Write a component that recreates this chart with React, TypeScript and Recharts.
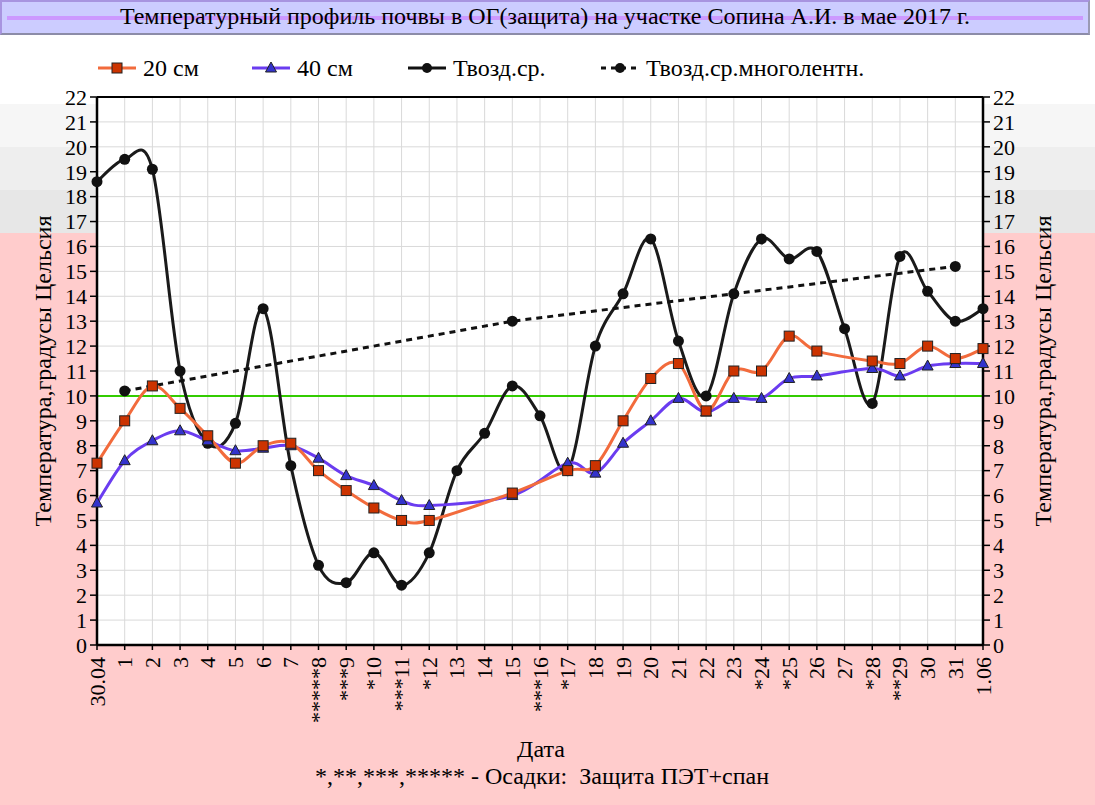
import { LineChart, Line, XAxis, YAxis, CartesianGrid, ReferenceLine } from 'recharts'

const SERIF = "'Liberation Serif', 'Times New Roman', Times, 'DejaVu Serif', 'Noto Serif', serif"

const dates = [
  '30.04', '1', '2', '3', '4', '5', '6', '7', '*****8', '***9', '*10', '***11', '*12',
  '13', '14', '15', '***16', '*17', '18', '19', '20', '21', '22', '23', '*24', '*25',
  '26', '27', '*28', '**29', '30', '31', '1.06',
]

// 20 см
const soil20 = [
  7.3, 9.0, 10.4, 9.5, 8.4, 7.3, 8.0, 8.1, 7.0, 6.2, 5.5, 5.0, 5.0,
  null, null, 6.1, null, 7.0, 7.2, 9.0, 10.7, 11.3, 9.4, 11.0, 11.0, 12.4,
  11.8, null, 11.4, 11.3, 12.0, 11.5, 11.9,
]

// 40 см
const soil40 = [
  5.7, 7.4, 8.2, 8.6, 8.2, 7.8, 7.9, 8.0, 7.5, 6.8, 6.4, 5.8, 5.6,
  null, null, 6.0, null, 7.3, 6.9, 8.1, 9.0, 9.9, 9.35, 9.9, 9.9, 10.7,
  10.8, null, 11.1, 10.8, 11.2, 11.3, 11.3,
]

// Твозд.ср.
const airMean = [
  18.6, 19.5, 19.1, 11.0, 8.1, 8.9, 13.5, 7.2, 3.2, 2.5, 3.7, 2.4, 3.7,
  7.0, 8.5, 10.4, 9.2, 7.0, 12.0, 14.1, 16.3, 12.2, 10.0, 14.1, 16.3, 15.5,
  15.8, 12.7, 9.7, 15.6, 14.2, 13.0, 13.5,
]

// Твозд.ср.многолетн.
const airNorm = [
  null, 10.2, null, null, null, null, null, null, null, null, null, null, null,
  null, null, 13.0, null, null, null, null, null, null, null, null, null, null,
  null, null, null, null, null, 15.2, null,
]

const yTicks = [0, 1, 2, 3, 4, 5, 6, 7, 8, 9, 10, 11, 12, 13, 14, 15, 16, 17, 18, 19, 20, 21, 22]

const data = dates.map((d, i) => ({
  date: d,
  s20: soil20[i],
  s40: soil40[i],
  air: airMean[i],
  norm: airNorm[i],
}))

// Excel-like smoothing (Catmull-Rom through the points)
const excelSmooth = (context: any) => {
  let pts: number[][] = []
  return {
    areaStart() {},
    areaEnd() {},
    lineStart() {
      pts = []
    },
    point(x: number, y: number) {
      pts.push([+x, +y])
    },
    lineEnd() {
      const n = pts.length
      if (!n) return
      context.moveTo(pts[0][0], pts[0][1])
      if (n === 2) {
        context.lineTo(pts[1][0], pts[1][1])
        return
      }
      for (let i = 0; i < n - 1; i++) {
        const p0 = pts[i - 1] || pts[i]
        const p1 = pts[i]
        const p2 = pts[i + 1]
        const p3 = pts[i + 2] || pts[i + 1]
        context.bezierCurveTo(
          p1[0] + (p2[0] - p0[0]) / 6,
          p1[1] + (p2[1] - p0[1]) / 6,
          p2[0] - (p3[0] - p1[0]) / 6,
          p2[1] - (p3[1] - p1[1]) / 6,
          p2[0],
          p2[1],
        )
      }
    },
  }
}

const SquareDot = (props: any) => {
  const { cx, cy, value, index } = props
  if (value == null || cy == null) return <g key={index} />
  return (
    <rect key={index} x={cx - 5} y={cy - 5} width={10} height={10} fill="#cc3300" stroke="#222" strokeWidth={1} />
  )
}

const TriangleDot = (props: any) => {
  const { cx, cy, value, index } = props
  if (value == null || cy == null) return <g key={index} />
  return (
    <path
      key={index}
      d={`M${cx},${cy - 6} L${cx + 5.5},${cy + 4} L${cx - 5.5},${cy + 4} Z`}
      fill="#3333cc"
      stroke="#222"
      strokeWidth={1}
    />
  )
}

const CircleDot = (props: any) => {
  const { cx, cy, value, index } = props
  if (value == null || cy == null) return <g key={index} />
  return <circle key={index} cx={cx} cy={cy} r={5.5} fill="#111" />
}

const DateTick = (props: any) => {
  const { x, y, payload } = props
  return (
    <text
      x={x}
      y={y}
      transform={`rotate(-90 ${x} ${y})`}
      textAnchor="end"
      dominantBaseline="central"
      fontSize={22}
      style={{ fontFamily: SERIF }}
      fill="#000"
    >
      {payload.value}
    </text>
  )
}

function LegendItem({ left, kind, label }: { left: number; kind: string; label: string }) {
  let icon = null
  if (kind === 's20') {
    icon = (
      <>
        <line x1={0} y1={10} x2={38} y2={10} stroke="#f26b3c" strokeWidth={3} />
        <rect x={14} y={5} width={10} height={10} fill="#cc3300" stroke="#222" />
      </>
    )
  } else if (kind === 's40') {
    icon = (
      <>
        <line x1={0} y1={10} x2={38} y2={10} stroke="#6a3cf0" strokeWidth={3} />
        <path d="M19,4 L24.5,14 L13.5,14 Z" fill="#3333cc" stroke="#222" />
      </>
    )
  } else if (kind === 'air') {
    icon = (
      <>
        <line x1={0} y1={10} x2={38} y2={10} stroke="#111" strokeWidth={3} />
        <circle cx={19} cy={10} r={5} fill="#111" />
      </>
    )
  } else {
    icon = (
      <>
        <line x1={0} y1={10} x2={38} y2={10} stroke="#111" strokeWidth={3} strokeDasharray="5 5" />
        <circle cx={19} cy={10} r={5} fill="#111" />
      </>
    )
  }
  return (
    <div style={{ position: 'absolute', left, top: 54, height: 28, display: 'flex', alignItems: 'center' }}>
      <svg width={38} height={20} style={{ marginRight: 7 }}>
        {icon}
      </svg>
      <span style={{ fontFamily: SERIF, fontSize: 24, color: '#000', whiteSpace: 'nowrap' }}>{label}</span>
    </div>
  )
}

const axisTick = { fontSize: 22, fill: '#000', style: { fontFamily: SERIF } }

const titleText = {
  position: 'absolute' as const,
  fontFamily: SERIF,
  fontSize: 24,
  color: '#000',
  whiteSpace: 'nowrap' as const,
}

export default function App() {
  return (
    <div style={{ position: 'absolute', left: 0, top: 0, width: 1095, height: 805, background: '#fff', overflow: 'hidden', fontFamily: SERIF }}>
      {/* background bands */}
      <div style={{ position: 'absolute', left: 0, top: 104, width: 1095, height: 43, background: '#f6f6f6' }} />
      <div style={{ position: 'absolute', left: 0, top: 147, width: 1095, height: 43, background: '#eeeeee' }} />
      <div style={{ position: 'absolute', left: 0, top: 190, width: 1095, height: 43, background: '#e7e7e7' }} />
      <div style={{ position: 'absolute', left: 0, top: 233, width: 1095, height: 572, background: '#ffcccc' }} />

      {/* title */}
      <div
        style={{
          position: 'absolute',
          left: 0,
          top: 0,
          width: 1086,
          height: 31,
          background: '#ccccff',
          borderTop: '2px solid #a894e0',
          borderLeft: '2px solid #a894e0',
          borderRight: '2px solid #9a9ab4',
          borderBottom: '2px solid #8c8ca8',
        }}
      >
        <div style={{ position: 'absolute', left: 5, right: 5, top: 14, height: 4, background: '#cc99ff' }} />
        <div style={{ ...titleText, left: 0, right: 0, top: 1, textAlign: 'center' }}>
          Температурный профиль почвы в ОГ(защита) на участке Сопина А.И. в мае 2017 г.
        </div>
      </div>

      {/* legend */}
      <LegendItem left={98} kind="s20" label="20 см" />
      <LegendItem left={252} kind="s40" label="40 см" />
      <LegendItem left={408} kind="air" label="Твозд.ср." />
      <LegendItem left={601} kind="norm" label="Твозд.ср.многолентн." />

      <div style={{ position: 'absolute', left: 0, top: 0 }}>
        <LineChart width={1095} height={805} data={data} margin={{ top: 97, right: 0, bottom: 0, left: 0 }}>
          <CartesianGrid stroke="#d9d9d9" fill="#ffffff" yAxisId="left" />
          <XAxis
            dataKey="date"
            interval={0}
            height={160}
            tick={<DateTick />}
            tickSize={5}
            tickMargin={7}
            axisLine={{ stroke: '#000', strokeWidth: 2.5 }}
            tickLine={{ stroke: '#000', strokeWidth: 1.5 }}
          />
          <YAxis
            yAxisId="left"
            orientation="left"
            width={97}
            domain={[0, 22]}
            ticks={yTicks}
            interval={0}
            tickSize={7}
            tickMargin={3}
            tick={axisTick}
            axisLine={{ stroke: '#000', strokeWidth: 2.5 }}
            tickLine={{ stroke: '#000', strokeWidth: 1.5 }}
          />
          <YAxis
            yAxisId="right"
            orientation="right"
            width={112}
            domain={[0, 22]}
            ticks={yTicks}
            interval={0}
            tickSize={7}
            tickMargin={3}
            tick={axisTick}
            axisLine={{ stroke: '#000', strokeWidth: 2.5 }}
            tickLine={{ stroke: '#000', strokeWidth: 1.5 }}
          />
          <ReferenceLine yAxisId="left" y={22} stroke="#000" strokeWidth={2} />
          <ReferenceLine yAxisId="left" y={10} stroke="#33cc00" strokeWidth={2} />
          <Line
            yAxisId="left"
            dataKey="air"
            type={excelSmooth as any}
            stroke="#1a1a1a"
            strokeWidth={3}
            dot={CircleDot}
            connectNulls
            isAnimationActive={false}
          />
          <Line
            yAxisId="right"
            dataKey="norm"
            type="linear"
            stroke="#111"
            strokeWidth={3}
            strokeDasharray="6 5"
            dot={CircleDot}
            connectNulls
            isAnimationActive={false}
          />
          <Line
            yAxisId="left"
            dataKey="s40"
            type={excelSmooth as any}
            stroke="#6a3cf0"
            strokeWidth={3}
            dot={TriangleDot}
            connectNulls
            isAnimationActive={false}
          />
          <Line
            yAxisId="left"
            dataKey="s20"
            type={excelSmooth as any}
            stroke="#f26b3c"
            strokeWidth={3}
            dot={SquareDot}
            connectNulls
            isAnimationActive={false}
          />
        </LineChart>
      </div>

      {/* axis titles */}
      <div style={{ ...titleText, left: 43, top: 371, transform: 'translate(-50%, -50%) rotate(-90deg)' }}>
        Температура,градусы Цельсия
      </div>
      <div style={{ ...titleText, left: 1043, top: 371, transform: 'translate(-50%, -50%) rotate(-90deg)' }}>
        Температура,градусы Цельсия
      </div>
      <div style={{ ...titleText, left: 0, width: 1082, top: 736, textAlign: 'center' }}>Дата</div>
      <div style={{ ...titleText, left: 0, width: 1084, top: 763, textAlign: 'center', whiteSpace: 'pre' }}>
        *,**,***,***** - Осадки:  Защита ПЭТ+спан
      </div>
    </div>
  )
}
